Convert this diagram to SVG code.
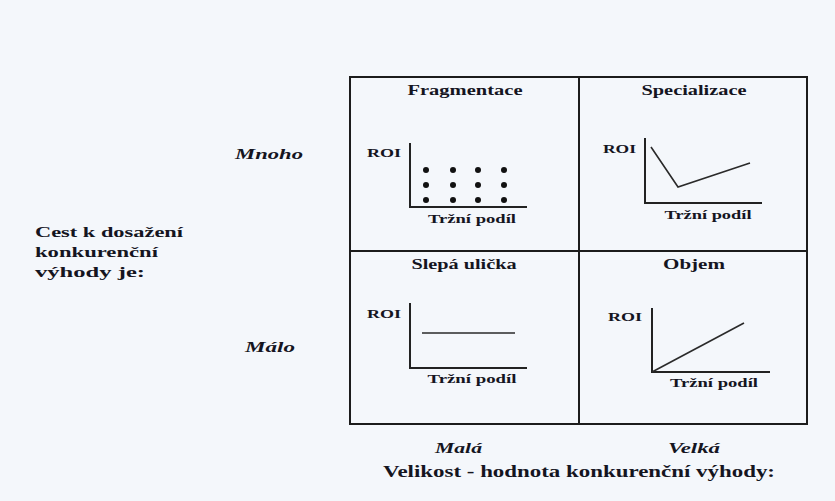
<svg xmlns="http://www.w3.org/2000/svg" width="835" height="501" viewBox="0 0 835 501">
<style>
text{font-family:"Liberation Serif","Times New Roman",serif;fill:#15151f;font-weight:bold}
.t{font-size:15px;text-anchor:middle}
.ax{font-size:13.5px;text-anchor:middle}
.roi{font-size:13px}
.it{font-style:italic;font-size:15px}
.lbl{font-size:15px}
.big{font-size:16px}
.grid{fill:none;stroke:#1c1c1c;stroke-width:2}
.axis{fill:none;stroke:#222;stroke-width:2}
.curve{fill:none;stroke:#2a2a2a;stroke-width:1.6}
</style>
<rect width="835" height="501" fill="#f4f7fb"/>
<g id="grid">
<rect class="grid" x="350" y="77" width="457" height="347"/>
<line class="grid" x1="579" y1="77" x2="579" y2="424"/>
<line class="grid" x1="350" y1="251" x2="807" y2="251"/>
</g>
<g id="fragmentace">
<text class="t" x="465" y="95" textLength="115" lengthAdjust="spacingAndGlyphs">Fragmentace</text>
<text class="roi" x="367" y="157" textLength="34" lengthAdjust="spacingAndGlyphs">ROI</text>
<polyline class="axis" points="410,143 410,207 527,207"/>
<g fill="#111">
<circle cx="426" cy="170" r="3"/><circle cx="453" cy="170" r="3"/><circle cx="478" cy="170" r="3"/><circle cx="504" cy="170" r="3"/>
<circle cx="426" cy="185" r="3"/><circle cx="453" cy="185" r="3"/><circle cx="478" cy="185" r="3"/><circle cx="504" cy="185" r="3"/>
<circle cx="426" cy="200" r="3"/><circle cx="453" cy="200" r="3"/><circle cx="478" cy="200" r="3"/><circle cx="504" cy="200" r="3"/>
</g>
<text class="ax" x="472" y="223" textLength="88" lengthAdjust="spacingAndGlyphs">Tržní podíl</text>
</g>
<g id="specializace">
<text class="t" x="694" y="95" textLength="105" lengthAdjust="spacingAndGlyphs">Specializace</text>
<text class="roi" x="603" y="153" textLength="33" lengthAdjust="spacingAndGlyphs">ROI</text>
<polyline class="axis" points="645,138 645,203 762,203"/>
<polyline class="curve" points="651,147 678,187 750,163"/>
<text class="ax" x="708" y="219" textLength="87" lengthAdjust="spacingAndGlyphs">Tržní podíl</text>
</g>
<g id="slepa-ulicka">
<text class="t" x="464" y="269" textLength="105" lengthAdjust="spacingAndGlyphs">Slepá ulička</text>
<text class="roi" x="367" y="318" textLength="34" lengthAdjust="spacingAndGlyphs">ROI</text>
<polyline class="axis" points="410,303 410,368 527,368"/>
<line class="curve" x1="422" y1="333" x2="515" y2="333"/>
<text class="ax" x="472" y="383" textLength="89" lengthAdjust="spacingAndGlyphs">Tržní podíl</text>
</g>
<g id="objem">
<text class="t" x="694" y="269" textLength="62" lengthAdjust="spacingAndGlyphs">Objem</text>
<text class="roi" x="608" y="321" textLength="34" lengthAdjust="spacingAndGlyphs">ROI</text>
<polyline class="axis" points="652,308 652,372 770,372"/>
<line class="curve" x1="652" y1="372" x2="744" y2="323"/>
<text class="ax" x="714" y="387" textLength="88" lengthAdjust="spacingAndGlyphs">Tržní podíl</text>
</g>
<g id="labels">
<text class="it" x="235" y="159" textLength="68" lengthAdjust="spacingAndGlyphs">Mnoho</text>
<text class="it" x="245" y="352" textLength="50" lengthAdjust="spacingAndGlyphs">Málo</text>
<text class="it" x="435" y="453" textLength="47" lengthAdjust="spacingAndGlyphs">Malá</text>
<text class="it" x="668" y="453" textLength="52" lengthAdjust="spacingAndGlyphs">Velká</text>
<text class="lbl" x="35" y="237" textLength="148" lengthAdjust="spacingAndGlyphs">Cest k dosažení</text>
<text class="lbl" x="35" y="257" textLength="123" lengthAdjust="spacingAndGlyphs">konkurenční</text>
<text class="lbl" x="35" y="277" textLength="110" lengthAdjust="spacingAndGlyphs">výhody je:</text>
<text class="big" x="383" y="477" textLength="392" lengthAdjust="spacingAndGlyphs">Velikost - hodnota konkurenční výhody:</text>
</g>
</svg>
